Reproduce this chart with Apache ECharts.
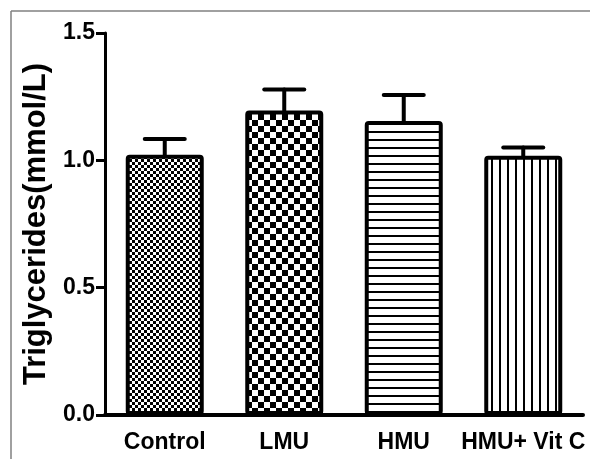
<!DOCTYPE html>
<html><head><meta charset="utf-8">
<script src="https://cdn.jsdelivr.net/npm/echarts@6/dist/echarts.min.js"></script>
<style>html,body{margin:0;padding:0;background:#fff}#c{width:590px;height:459px}</style>
</head><body><div id="c"></div>
<script>
const categories = ['Control', 'LMU', 'HMU', 'HMU+ Vit C'];
const means = [1.022, 1.196, 1.154, 1.018];
const errors = [0.062, 0.082, 0.103, 0.032];
const yTicks = [0, 0.5, 1.0, 1.5];

function pat(kind) {
  const c = document.createElement('canvas');
  const ctx = c.getContext('2d');
  if (kind === 'fine' || kind === 'coarse') {
    const s = kind === 'fine' ? 3 : 6;
    c.width = c.height = 2 * s;
    ctx.fillStyle = '#fff'; ctx.fillRect(0, 0, 2 * s, 2 * s);
    ctx.fillStyle = '#000'; ctx.fillRect(0, 0, s, s); ctx.fillRect(s, s, s, s);
  } else if (kind === 'h') {
    c.width = 8; c.height = 8;
    ctx.fillStyle = '#fff'; ctx.fillRect(0, 0, 8, 8);
    ctx.fillStyle = '#000'; ctx.fillRect(0, 3, 8, 2);
  } else {
    c.width = 8; c.height = 8;
    ctx.fillStyle = '#fff'; ctx.fillRect(0, 0, 8, 8);
    ctx.fillStyle = '#000'; ctx.fillRect(3, 0, 2, 8);
  }
  return { image: c, repeat: 'repeat' };
}
const patterns = [pat('fine'), pat('coarse'), pat('h'), pat('v')];

const chart = echarts.init(document.getElementById('c'));
const font = 'Liberation Sans, Arial, sans-serif';
chart.setOption({
  animation: false,
  graphic: [
    { type: 'line', shape: { x1: 11, y1: 11, x2: 590, y2: 11 }, style: { stroke: '#808080', lineWidth: 1.5 } },
    { type: 'line', shape: { x1: 11, y1: 11, x2: 11, y2: 459 }, style: { stroke: '#808080', lineWidth: 1.5 } }
  ],
  grid: { left: 105, right: 7, top: 33, bottom: 44, containLabel: false },
  xAxis: {
    type: 'category', data: categories,
    axisLine: { lineStyle: { color: '#000', width: 4 } },
    axisTick: { alignWithLabel: true, length: 10, lineStyle: { color: '#000', width: 3 } },
    axisLabel: { color: '#000', fontFamily: font, fontWeight: 'bold', fontSize: 23, margin: 16, interval: 0 }
  },
  yAxis: {
    type: 'value', min: 0, max: 1.5, interval: 0.5,
    name: 'Triglycerides(mmol/L)', nameLocation: 'middle', nameGap: 50,
    nameTextStyle: { color: '#000', fontFamily: font, fontWeight: 'bold', fontSize: 31 },
    splitLine: { show: false },
    axisLine: { show: true, lineStyle: { color: '#000', width: 3 } },
    axisTick: { show: true, length: 9, lineStyle: { color: '#000', width: 3 } },
    axisLabel: { color: '#000', fontFamily: font, fontWeight: 'bold', fontSize: 23, margin: 10,
      formatter: v => yTicks.includes(v) ? v.toFixed(1) : '' }
  },
  series: [
    {
      type: 'bar', barWidth: 78, z: 2,
      data: means.map((v, i) => ({ value: v, itemStyle: { color: patterns[i] } })),
      itemStyle: { borderColor: '#000', borderWidth: 4, borderRadius: 2 }
    },
    {
      type: 'custom', z: 3,
      data: means.map((v, i) => [i, v, v + errors[i]]),
      renderItem: function (params, api) {
        const b = api.coord([api.value(0), api.value(1)]);
        const t = api.coord([api.value(0), api.value(2)]);
        const st = { stroke: '#000', lineWidth: 4, lineCap: 'round' };
        return { type: 'group', children: [
          { type: 'line', shape: { x1: b[0], y1: b[1], x2: t[0], y2: t[1] }, style: st },
          { type: 'line', shape: { x1: t[0] - 20, y1: t[1], x2: t[0] + 20, y2: t[1] }, style: st }
        ] };
      }
    }
  ]
});
</script></body></html>
